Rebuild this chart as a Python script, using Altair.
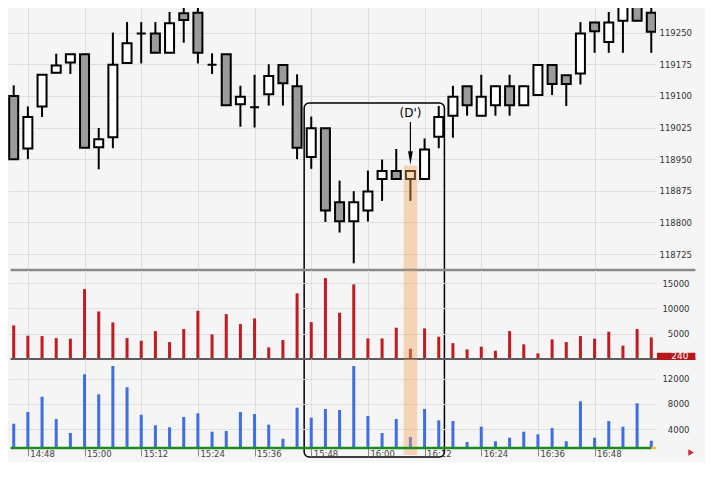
import altair as alt
import pandas as pd

# ---------------- data ----------------
times = ["14:45", "14:48", "14:51", "14:54", "14:57", "15:00", "15:03", "15:06", "15:09", "15:12",
         "15:15", "15:18", "15:21", "15:24", "15:27", "15:30", "15:33", "15:36", "15:39", "15:42",
         "15:45", "15:48", "15:51", "15:54", "15:57", "16:00", "16:03", "16:06", "16:09", "16:12",
         "16:15", "16:18", "16:21", "16:24", "16:27", "16:30", "16:33", "16:36", "16:39", "16:42",
         "16:45", "16:48", "16:51", "16:54", "16:57", "17:00"]

opens = [119100, 118975, 119075, 119155, 119179, 119199, 118978, 119002, 119178, 119248,
         119248, 119202, 119296, 119297, 119174, 119199, 119080, 119073, 119104, 119173,
         119123, 118955, 119023, 118848, 118803, 118828, 118903, 118922, 118903, 118903,
         119003, 119053, 119123, 119053, 119078, 119123, 119078, 119102, 119173, 119149,
         119153, 119274, 119228, 119278, 119323, 119297]
highs = [119125, 119075, 119150, 119200, 119199, 119199, 119024, 119250, 119275, 119275,
         119275, 119299, 119330, 119330, 119201, 119199, 119124, 119150, 119175, 119173,
         119151, 119051, 119023, 118899, 118874, 118923, 118949, 118974, 118922, 118999,
         119076, 119124, 119123, 119150, 119123, 119150, 119123, 119173, 119173, 119149,
         119275, 119274, 119299, 119325, 119330, 119323]
lows = [118950, 118950, 119050, 119155, 119152, 118977, 118926, 118976, 119178, 119177,
        119202, 119202, 119226, 119177, 119152, 119078, 119027, 119025, 119077, 119077,
        118950, 118927, 118801, 118776, 118703, 118802, 118851, 118903, 118851, 118903,
        118976, 119001, 119053, 119053, 119053, 119053, 119078, 119102, 119102, 119076,
        119127, 119202, 119202, 119202, 119278, 119202]
closes = [118950, 119050, 119150, 119172, 119199, 118977, 118997, 119174, 119225, 119248,
          119202, 119272, 119280, 119202, 119174, 119078, 119098, 119073, 119147, 119130,
          118977, 119023, 118828, 118803, 118848, 118873, 118922, 118903, 118922, 118973,
          119050, 119098, 119078, 119098, 119123, 119078, 119123, 119173, 119128, 119128,
          119248, 119253, 119274, 119323, 119278, 119252]

vol_red = [6640, 4600, 4530, 4130, 4010, 13810, 9400, 7230, 4130, 3620,
           5510, 3340, 5910, 9540, 4860, 8870, 6900, 8020, 2290, 3740,
           12960, 7290, 15990, 9150, 14740, 4070, 4070, 6190, 2030, 6050,
           4400, 3140, 1900, 2430, 1640, 5510, 2890, 1110, 3870, 3340,
           4530, 4010, 5400, 2630, 5910, 4270]
vol_blue = [4885, 6735, 9150, 5630, 3415, 12700, 9530, 14010, 10640, 6310,
            4630, 4320, 5945, 6530, 3620, 3730, 6735, 6420, 4730, 2515,
            7415, 5830, 7210, 7050, 14010, 6100, 3415, 5630, 2780, 7210,
            5420, 5310, 1990, 4410, 2100, 2670, 3620, 3210, 4205, 2100,
            8425, 2670, 5310, 4410, 8110, 2200]

tick_times = ["14:48", "15:00", "15:12", "15:24", "15:36", "15:48",
              "16:00", "16:12", "16:24", "16:36", "16:48"]
price_ticks = [118725, 118800, 118875, 118950, 119025, 119100, 119175, 119250]
red_ticks = [5000, 10000, 15000]
blue_ticks = [4000, 8000, 12000]

# annotation values
highlight_time = "16:09"
annotation_text = "(D')"
box_times = ["15:46:30", "16:16:12"]
band_times = ["16:07:34", "16:10:26"]
last_label = "240"

# ---------------- helpers ----------------
DAY = "2024-01-02"


def iso(hms):
    parts = hms.split(":")
    if len(parts) == 2:
        parts.append("00")
    return f"{DAY}T{int(parts[0]):02d}:{int(parts[1]):02d}:{parts[2]}"


def dt(hms):
    parts = hms.split(":")
    h, m = int(parts[0]), int(parts[1])
    sec = float(parts[2]) if len(parts) > 2 else 0.0
    return alt.DateTime(year=2024, month=1, date=2, hours=h, minutes=m,
                        seconds=int(sec), milliseconds=int(round((sec - int(sec)) * 1000)))


FONT = "DejaVu Sans"
GRID = "#dedede"
RED = "#c21a1f"
BLUE = "#3c6ee6"
ORANGE = "#f5a05a"
W = 648

X_START, X_END = "14:43:47.5", "17:01:00"
LINE_START = "14:44:20"      # separators start just inside the plot
SEP_END = "17:09:20"
GREEN_END = "17:00:00"
xscale = alt.Scale(domain=[dt(X_START), dt(X_END)], padding=0, nice=False)
tick_vals = [dt(t) for t in tick_times]

ax_x_grid = alt.Axis(values=tick_vals, grid=True, gridColor=GRID, labels=False,
                     ticks=False, domain=False, title=None)
ax_x_bottom = alt.Axis(values=tick_vals, grid=True, gridColor=GRID, format="%H:%M",
                       labelFont=FONT, labelFontSize=8.5, labelColor="#444",
                       labelAlign="left", labelBaseline="top", labelPadding=-7,
                       labelOffset=2, labelFlush=False, labelOverlap=False,
                       ticks=True, tickColor="#888", tickSize=8, tickWidth=1,
                       domain=False, title=None)


def X(field, axis):
    return alt.X(field, type="temporal", scale=xscale, axis=axis)


# ---------------- tables ----------------
ohlc = pd.DataFrame({"t": [iso(t) for t in times], "open": opens, "high": highs,
                     "low": lows, "close": closes})
ohlc["dir"] = ["up" if c >= o else "down" for o, c in zip(opens, closes)]
vol = pd.DataFrame({"t": [iso(t) for t in times], "red": vol_red, "blue": vol_blue})

# ---------------- top panel (price) ----------------
P_MIN, P_MAX = 118687.1, 119308.4
yscale_top = alt.Scale(domain=[P_MIN, P_MAX], nice=False, zero=False)
ax_y_top = alt.Axis(orient="right", values=price_ticks, grid=True, gridColor=GRID,
                    ticks=False, domain=False, labelFont=FONT, labelFontSize=8.5,
                    labelColor="#333", labelPadding=3, labelAlign="left",
                    format="d", title=None)


def YT(field):
    return alt.Y(field, type="quantitative", scale=yscale_top, axis=ax_y_top)


wicks = alt.Chart(ohlc).mark_rule(color="black", strokeWidth=2, clip=True).encode(
    x=X("t", ax_x_grid), y=YT("low"), y2="high")
bodies = alt.Chart(ohlc).mark_bar(size=9, stroke="black", strokeWidth=2, clip=True).encode(
    x=X("t", ax_x_grid), y=YT("open"), y2="close",
    color=alt.Color("dir:N", scale=alt.Scale(domain=["up", "down"],
                                             range=["#ffffff", "#9b9b9b"]), legend=None))

band_top_df = pd.DataFrame({"x1": [iso(band_times[0])], "x2": [iso(band_times[1])],
                            "y1": [118935], "y2": [P_MIN]})
band_top = alt.Chart(band_top_df).mark_rect(color=ORANGE, opacity=0.4).encode(
    x=X("x1", ax_x_grid), x2="x2", y=YT("y1"), y2="y2")

box_df = pd.DataFrame({"x1": [iso(box_times[0])], "x2": [iso(box_times[1])],
                       "y1": [119083], "y2": [118243.6]})
box = alt.Chart(box_df).mark_rect(stroke="black", strokeWidth=1.5, fillOpacity=0,
                                  cornerRadius=5, clip=False).encode(
    x=X("x1", ax_x_grid), x2="x2", y=YT("y1"), y2="y2")

arrow_df = pd.DataFrame({"t": [iso(highlight_time)], "y1": [119038], "y2": [118953],
                         "tip": [118952.7], "ty": [119059], "label": [annotation_text]})
arrow_line = alt.Chart(arrow_df).mark_rule(color="black", strokeWidth=1.2).encode(
    x=X("t", ax_x_grid), y=YT("y1"), y2="y2")
arrow_head = alt.Chart(arrow_df).mark_point(
    shape="M -0.35 -1 L 0 1 L 0.35 -1 Z", size=180, filled=True, color="black",
    opacity=1).encode(x=X("t", ax_x_grid), y=YT("tip"))
arrow_text = alt.Chart(arrow_df).mark_text(font=FONT, fontSize=12, fill="#000000",
                                           color="#000000").encode(
    x=X("t", ax_x_grid), y=YT("ty"), text="label:N")

sep_top_df = pd.DataFrame({"x1": [iso(LINE_START)], "x2": [iso(SEP_END)], "y": [P_MIN]})
sep_top = alt.Chart(sep_top_df).mark_rule(color="#8a8a8a", strokeWidth=2.5, clip=False).encode(
    x=X("x1", ax_x_grid), x2="x2", y=YT("y"))

top = alt.layer(wicks, bodies, band_top, box, arrow_line, arrow_head, arrow_text,
                sep_top).properties(width=W, height=262)

# ---------------- middle panel (red volume) ----------------
R_MAX = 17590
yscale_mid = alt.Scale(domain=[0, R_MAX], nice=False, zero=False)
ax_y_mid = alt.Axis(orient="right", values=red_ticks, grid=True, gridColor=GRID,
                    ticks=False, domain=False, labelFont=FONT, labelFontSize=8.5,
                    labelColor="#333", labelPadding=33, labelAlign="right",
                    format="d", title=None)


def YM(field):
    return alt.Y(field, type="quantitative", scale=yscale_mid, axis=ax_y_mid)


red_bars = alt.Chart(vol).mark_bar(size=3, color=RED).encode(
    x=X("t", ax_x_grid), y=YM("red"))
band_mid_df = pd.DataFrame({"x1": [iso(band_times[0])], "x2": [iso(band_times[1])],
                            "y1": [R_MAX], "y2": [0]})
band_mid = alt.Chart(band_mid_df).mark_rect(color=ORANGE, opacity=0.4).encode(
    x=X("x1", ax_x_grid), x2="x2", y=YM("y1"), y2="y2")
sep_mid_df = pd.DataFrame({"x1": [iso(LINE_START)], "x2": [iso(SEP_END)], "y": [0]})
sep_mid = alt.Chart(sep_mid_df).mark_rule(color="#5c5c5c", strokeWidth=2, clip=False).encode(
    x=X("x1", ax_x_grid), x2="x2", y=YM("y"))
lbl_df = pd.DataFrame({"x1": [iso("17:01:12")], "x2": [iso(SEP_END)], "y1": [1245],
                       "y2": [-198], "tx": [iso("17:07:53")], "ty": [560],
                       "label": [last_label]})
lbl_box = alt.Chart(lbl_df).mark_rect(color="#b3191e", clip=False).encode(
    x=X("x1", ax_x_grid), x2="x2", y=YM("y1"), y2="y2")
lbl_text = alt.Chart(lbl_df).mark_text(font=FONT, fontSize=9, color="white", align="right",
                                       baseline="middle", clip=False).encode(
    x=X("tx", ax_x_grid), y=YM("ty"), text="label:N")

mid = alt.layer(red_bars, band_mid, sep_mid, lbl_box, lbl_text).properties(width=W, height=89)

# ---------------- bottom panel (blue volume) ----------------
B_MIN, B_MAX = 1043, 15115
yscale_bot = alt.Scale(domain=[B_MIN, B_MAX], nice=False, zero=False)
ax_y_bot = alt.Axis(orient="right", values=blue_ticks, grid=True, gridColor=GRID,
                    ticks=False, domain=False, labelFont=FONT, labelFontSize=8.5,
                    labelColor="#333", labelPadding=33, labelAlign="right",
                    format="d", title=None)


def YB(field):
    return alt.Y(field, type="quantitative", scale=yscale_bot, axis=ax_y_bot)


blue_bars = alt.Chart(vol).mark_bar(size=3, color=BLUE, clip=True).encode(
    x=X("t", ax_x_bottom), y=YB("blue"))
band_bot_df = pd.DataFrame({"x1": [iso(band_times[0])], "x2": [iso(band_times[1])],
                            "y1": [B_MAX], "y2": [-64]})
band_bot = alt.Chart(band_bot_df).mark_rect(color=ORANGE, opacity=0.4, clip=False).encode(
    x=X("x1", ax_x_bottom), x2="x2", y=YB("y1"), y2="y2")
green_df = pd.DataFrame({"x1": [iso(LINE_START)], "x2": [iso(GREEN_END)], "y": [B_MIN]})
green = alt.Chart(green_df).mark_rule(color="#1f8a1f", strokeWidth=2.5, clip=False).encode(
    x=X("x1", ax_x_bottom), x2="x2", y=YB("y"))
yellow_df = pd.DataFrame({"x1": [iso(GREEN_END)], "x2": [iso(X_END)], "y": [B_MIN]})
yellow = alt.Chart(yellow_df).mark_rule(color="#f2c230", strokeWidth=2.5, clip=False).encode(
    x=X("x1", ax_x_bottom), x2="x2", y=YB("y"))
marker_df = pd.DataFrame({"t": [iso("17:08:25")], "y": [332]})
marker = alt.Chart(marker_df).mark_point(shape="triangle-right", size=40, filled=True,
                                         color="#d42020", opacity=1, clip=False).encode(
    x=X("t", ax_x_bottom), y=YB("y"))

bot = alt.layer(blue_bars, band_bot, green, yellow, marker).properties(width=W, height=89)

chart = alt.vconcat(top, mid, bot, spacing=0, bounds="flush").properties(
    background="#f5f5f5",
    padding={"left": 0, "top": 0, "right": 8, "bottom": 4},
).configure_view(stroke=None)

chart.save("out.html", embed_options={"renderer": "svg", "actions": False})
